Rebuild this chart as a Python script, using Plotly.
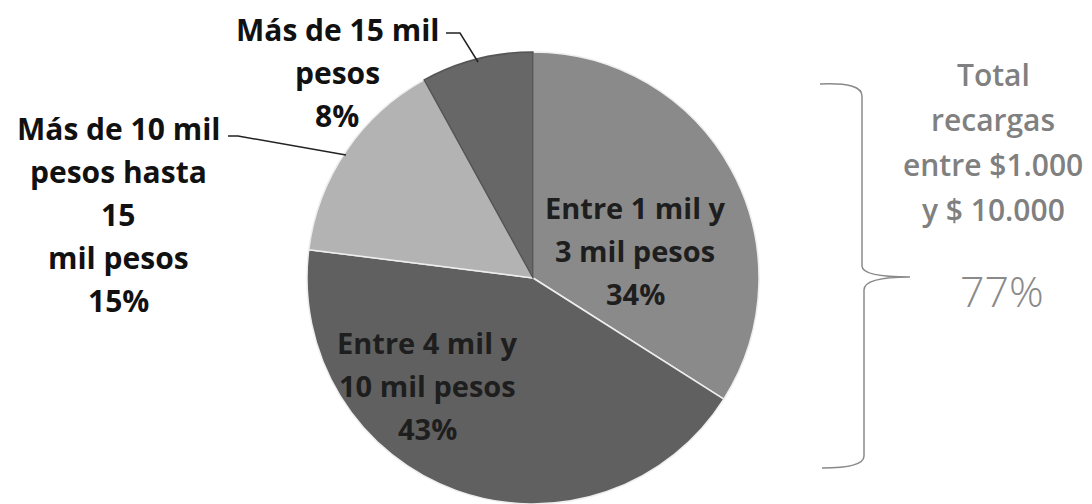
import plotly.graph_objects as go

# ---- data ----
labels = ["Entre 1 mil y 3 mil pesos", "Entre 4 mil y 10 mil pesos",
          "Más de 10 mil pesos hasta 15 mil pesos", "Más de 15 mil pesos"]
values = [34, 43, 15, 8]
label_lines = [["Entre 1 mil y", "3 mil pesos"],
               ["Entre 4 mil y", "10 mil pesos"],
               ["Más de 10 mil", "pesos hasta", "15", "mil pesos"],
               ["Más de 15 mil", "pesos"]]
slice_colors = ["#8a8a8a", "#606060", "#b3b3b3", "#676767"]
total_lines = ["Total", "recargas", "entre $1.000", "y $ 10.000"]
total_value = "77%"

W, H = 1092, 504
cx, cy, R = 533, 278, 226

fig = go.Figure()
fig.add_trace(go.Pie(
    labels=labels, values=values, sort=False, direction="clockwise", rotation=0,
    marker=dict(colors=slice_colors,
                line=dict(color=["#eeeeee", "#eeeeee", "#eeeeee", "#555555"], width=1.5)),
    textinfo="none", hoverinfo="label+percent", showlegend=False,
    domain=dict(x=[(cx - R) / W, (cx + R) / W], y=[(H - cy - R) / H, (H - cy + R) / H]),
))

FONT = "Open Sans"
LS = 43  # line spacing px

def add_block(lines, x, y0, size, color, bold=True):
    for i, t in enumerate(lines):
        txt = f"<b>{t}</b>" if bold else t
        fig.add_annotation(x=x, y=y0 + i * LS, xref="x", yref="y", text=txt,
                           showarrow=False, xanchor="center", yanchor="middle",
                           font=dict(family=FONT, size=size, color=color))

pct = [f"{v}%" for v in values]
# inside labels
add_block(label_lines[0] + [pct[0]], 635, 207, 29, "#1e1e1e")
add_block(label_lines[1] + [pct[1]], 427, 342, 29, "#1e1e1e")
# outside labels
add_block(label_lines[2] + [pct[2]], 118, 128, 30, "#111111")
add_block(label_lines[3] + [pct[3]], 337, 29, 30, "#111111")

# leader lines
fig.add_shape(type="path", xref="x", yref="y",
              path="M 446 33 L 460 33 L 478 62", line=dict(color="#222222", width=1.5))
fig.add_shape(type="path", xref="x", yref="y",
              path="M 228 136 L 238 136 L 346 155", line=dict(color="#222222", width=1.5))

# brace
fig.add_shape(type="path", xref="x", yref="y",
              path="M 820 84 Q 862 82 862 96 L 862 266 Q 862 277 910 277 "
                   "Q 864 277 864 290 L 864 456 Q 864 468 822 468",
              line=dict(color="#8a8a8a", width=1.5))

# total text
for i, t in enumerate(total_lines):
    fig.add_annotation(x=993, y=74 + i * 45, xref="x", yref="y", text=t, showarrow=False,
                       xanchor="center", yanchor="middle",
                       font=dict(family=FONT, size=30, color="#808080", weight=600))
fig.add_annotation(x=1002, y=290, xref="x", yref="y", text=total_value, showarrow=False,
                   xanchor="center", yanchor="middle",
                   font=dict(family=FONT, size=43, color="#8a8a8a", weight=300))

fig.update_layout(
    width=W, height=H, margin=dict(l=0, r=0, t=0, b=0),
    paper_bgcolor="white", plot_bgcolor="rgba(0,0,0,0)",
    xaxis=dict(range=[0, W], visible=False, domain=[0, 1], fixedrange=True),
    yaxis=dict(range=[H, 0], visible=False, domain=[0, 1], fixedrange=True),
)
fig.write_html("out.html", config={"displayModeBar": False},
               post_script="document.body.style.margin='0';document.body.style.overflow='hidden';")
